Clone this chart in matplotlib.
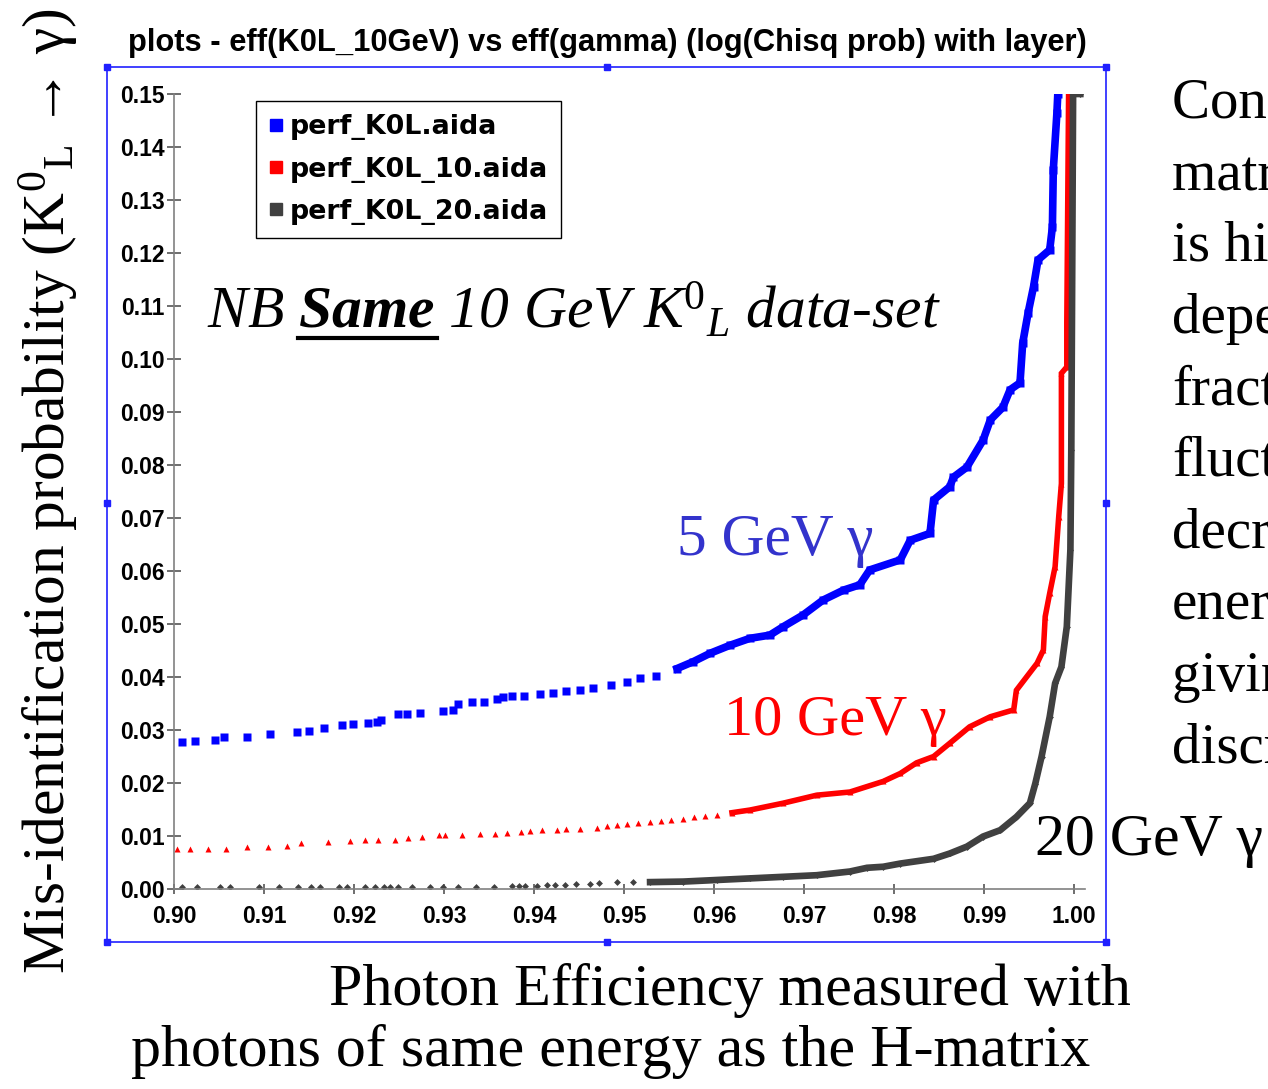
import numpy as np
import matplotlib
matplotlib.use('Agg')
import matplotlib.pyplot as plt
from matplotlib.lines import Line2D
from matplotlib.patches import Rectangle

plt.rcParams['mathtext.fontset'] = 'custom'
plt.rcParams['mathtext.rm'] = 'Liberation Serif'
plt.rcParams['mathtext.it'] = 'Liberation Serif:italic'
plt.rcParams['mathtext.bf'] = 'Liberation Serif:bold:italic'

# ---- data ----
blue_x = [0.9009, 0.9023, 0.9046, 0.9055, 0.9081, 0.9107, 0.9137, 0.9150, 0.9167, 0.9187,
          0.9199, 0.9216, 0.9225, 0.9230, 0.9249, 0.9259, 0.9273, 0.9299, 0.9310, 0.9315,
          0.9331, 0.9344, 0.9359, 0.9366, 0.9375, 0.9389, 0.9407, 0.9421, 0.9436, 0.9451,
          0.9466, 0.9486, 0.9503, 0.9518, 0.9536, 0.9559, 0.9577, 0.9596, 0.9618, 0.9640,
          0.9662, 0.9677, 0.9699, 0.9721, 0.9744, 0.9762, 0.9773, 0.9807, 0.9818, 0.9840,
          0.9844, 0.9862, 0.9866, 0.9881, 0.9899, 0.9907, 0.9921, 0.9929, 0.9940, 0.9943,
          0.9949, 0.9955, 0.9960, 0.9973, 0.9976, 0.9977, 0.9981, 0.9982]
blue_y = [0.0278, 0.0280, 0.0282, 0.0286, 0.0287, 0.0292, 0.0297, 0.0299, 0.0304, 0.0309,
          0.0311, 0.0313, 0.0315, 0.0319, 0.0331, 0.0331, 0.0332, 0.0335, 0.0338, 0.0350,
          0.0352, 0.0353, 0.0359, 0.0362, 0.0364, 0.0364, 0.0368, 0.0370, 0.0374, 0.0376,
          0.0379, 0.0385, 0.0391, 0.0398, 0.0401, 0.0416, 0.0429, 0.0445, 0.0460, 0.0473,
          0.0479, 0.0495, 0.0517, 0.0545, 0.0564, 0.0574, 0.0602, 0.0621, 0.0658, 0.0671,
          0.0734, 0.0759, 0.0777, 0.0796, 0.0847, 0.0885, 0.0909, 0.0942, 0.0955, 0.1030,
          0.1087, 0.1136, 0.1187, 0.1206, 0.1249, 0.1357, 0.1464, 0.1500]

red_x = [0.9003, 0.9018, 0.9038, 0.9058, 0.9081, 0.9104, 0.9126, 0.9141, 0.9171, 0.9196,
         0.9212, 0.9227, 0.9246, 0.9260, 0.9275, 0.9294, 0.9301, 0.9320, 0.9340, 0.9357,
         0.9370, 0.9386, 0.9396, 0.9409, 0.9425, 0.9436, 0.9451, 0.9470, 0.9481, 0.9492,
         0.9503, 0.9515, 0.9529, 0.9541, 0.9552, 0.9566, 0.9578, 0.9590, 0.9603, 0.9620,
         0.9640, 0.9677, 0.9714, 0.9751, 0.9788, 0.9807, 0.9825, 0.9844,
         0.9862, 0.9884, 0.9907, 0.9933, 0.9936, 0.9959, 0.9966, 0.9968, 0.9973, 0.9979,
         0.9983, 0.9986, 0.9986, 0.9992, 0.9992, 0.9994]
red_y = [0.0075, 0.0075, 0.0075, 0.0075, 0.0080, 0.0080, 0.0081, 0.0086, 0.0088, 0.0091,
         0.0092, 0.0092, 0.0093, 0.0096, 0.0099, 0.0101, 0.0101, 0.0101, 0.0104, 0.0104,
         0.0106, 0.0107, 0.0109, 0.0111, 0.0111, 0.0113, 0.0114, 0.0116, 0.0118, 0.0121,
         0.0122, 0.0124, 0.0127, 0.0128, 0.0130, 0.0133, 0.0135, 0.0137, 0.0140, 0.0144,
         0.0149, 0.0162, 0.0177, 0.0183, 0.0203, 0.0218, 0.0238, 0.0250,
         0.0275, 0.0306, 0.0325, 0.0338, 0.0375, 0.0426, 0.0451, 0.0514, 0.0558, 0.0608,
         0.0702, 0.0765, 0.0973, 0.0985, 0.1068, 0.1500]

gray_x = [0.9009, 0.9025, 0.9051, 0.9062, 0.9094, 0.9117, 0.9138, 0.9152, 0.9162, 0.9183,
          0.9192, 0.9212, 0.9223, 0.9233, 0.9240, 0.9249, 0.9264, 0.9284, 0.9299, 0.9316,
          0.9336, 0.9355, 0.9375, 0.9383, 0.9390, 0.9403, 0.9414, 0.9423, 0.9434, 0.9447,
          0.9462, 0.9472, 0.9492, 0.9510, 0.9529, 0.9566, 0.9603, 0.9640, 0.9677, 0.9714,
          0.9751, 0.9770, 0.9788, 0.9807, 0.9844, 0.9862, 0.9881, 0.9899, 0.9918, 0.9936,
          0.9951, 0.9957, 0.9964, 0.9973, 0.9979, 0.9986, 0.9992, 0.9996, 0.9997, 0.9999,
          1.0007]
gray_y = [0.0003, 0.0003, 0.0003, 0.0003, 0.0003, 0.0003, 0.0003, 0.0004, 0.0004, 0.0004,
          0.0004, 0.0004, 0.0004, 0.0004, 0.0004, 0.0004, 0.0004, 0.0004, 0.0003, 0.0004,
          0.0004, 0.0004, 0.0005, 0.0005, 0.0006, 0.0006, 0.0007, 0.0007, 0.0008, 0.0009,
          0.0010, 0.0011, 0.0013, 0.0013, 0.0013, 0.0014, 0.0017, 0.0020, 0.0023, 0.0026,
          0.0033, 0.0040, 0.0042, 0.0048, 0.0057, 0.0067, 0.0080, 0.0099, 0.0111, 0.0136,
          0.0162, 0.0199, 0.0250, 0.0325, 0.0388, 0.0419, 0.0495, 0.0640, 0.0828, 0.1500,
          0.1500]

labels = ['perf_K0L.aida', 'perf_K0L_10.aida', 'perf_K0L_20.aida']
colors = ['#0000ff', '#ff0000', '#404040']
xticks = [0.90, 0.91, 0.92, 0.93, 0.94, 0.95, 0.96, 0.97, 0.98, 0.99, 1.00]
yticks = [0.00, 0.01, 0.02, 0.03, 0.04, 0.05, 0.06, 0.07, 0.08, 0.09, 0.10,
          0.11, 0.12, 0.13, 0.14, 0.15]

side_lines = ['Constant H-', 'matrix cut', 'is highly', 'dependent on', 'fractional',
              'fluctuations', 'decreasing with', 'energy,', 'giving better',
              'discrimination']

W, H = 1268, 1089


def px(x, y):
    return x / W, 1 - y / H


fig = plt.figure(figsize=(W / 100, H / 100), dpi=100)
ax = fig.add_axes([174 / W, 1 - 889 / H, (1085 - 174) / W, (889 - 94) / H])

# sparse markers + dense (continuous looking) part drawn as thick line
series = [
    (blue_x, blue_y, 's', 6.0, 0.9559, 5.5),
    (red_x, red_y, '^', 4.0, 0.9620, 4.0),
    (gray_x, gray_y, 'D', 3.5, 0.9529, 4.8),
]
for (sx, sy, mk, ms, dense_from, lw), c in zip(series, colors):
    sx = np.array(sx)
    sy = np.array(sy)
    ax.plot(sx, sy, mk, color=c, ms=ms, mec='none', ls='none')
    k = sx >= dense_from
    ax.plot(sx[k], sy[k], '-', color=c, lw=lw, solid_joinstyle='miter')

ax.set_xlim(0.90, 0.90 + (1085 - 174) / 9000)
ax.set_ylim(0, 0.15)
ax.set_xticks(xticks)
ax.set_xticklabels(['%.2f' % v for v in xticks])
ax.set_yticks(yticks)
ax.set_yticklabels(['%.2f' % v for v in yticks])
for s in ['top', 'right']:
    ax.spines[s].set_visible(False)
for s in ['left', 'bottom']:
    ax.spines[s].set_color('#808080')
    ax.spines[s].set_linewidth(1.2)
ax.tick_params(axis='x', direction='inout', length=7.5, width=1.2, color='#555555', pad=8)
ax.tick_params(axis='y', direction='inout', length=9.5, width=1.2, color='#555555', pad=2)
for lab in ax.get_xticklabels() + ax.get_yticklabels():
    lab.set_fontfamily('Liberation Sans')
    lab.set_fontweight('bold')
    lab.set_fontsize(16.5)

handles = [Line2D([], [], marker='s', ls='none', color=c, ms=9) for c in colors]
leg = ax.legend(handles, labels, loc='upper left', bbox_to_anchor=px(256, 101),
                bbox_transform=fig.transFigure,
                prop={'family': 'DejaVu Sans', 'weight': 'bold', 'size': 19.4},
                frameon=True, fancybox=False, edgecolor='black', framealpha=1,
                borderaxespad=0, handlelength=0.45, handletextpad=0.3,
                labelspacing=0.6, borderpad=0.5)
leg.get_frame().set_linewidth(1.0)

# blue selection frame of the slide object
fig.add_artist(Rectangle(px(107, 942), 999 / W, 875 / H, transform=fig.transFigure,
                         fill=False, ec='#2020ff', lw=1.2))
hx = [107, 607, 1106, 107, 1106, 107, 607, 1106]
hy = [67, 67, 67, 503, 503, 942, 942, 942]
fig.add_artist(Line2D([x / W for x in hx], [1 - y / H for y in hy], marker='s', ls='none',
                      ms=4, color='#2020ff', transform=fig.transFigure))

texts = []


def put(x, y, s, width=None, height=None, **kw):
    t = fig.text(*px(x, y), s, **kw)
    texts.append((t, width, height))
    return t


put(607, 51, 'plots - eff(K0L_10GeV) vs eff(gamma) (log(Chisq prob) with layer)', width=961,
    ha='center', va='baseline', family='Liberation Sans', weight='bold', size=19)
put(207, 328, r'NB $\mathbf{Same}$ 10 GeV K$^{\mathit{0}}{}_{\mathit{L}}$ data-set', width=733,
    ha='left', va='baseline', family='Liberation Serif', style='italic', size=40)
fig.add_artist(Line2D([298 / W, 437 / W], [1 - 338 / H, 1 - 338 / H], lw=3, color='black',
                      transform=fig.transFigure))
put(677, 555, '5 GeV γ', width=196, ha='left', va='baseline', family='Liberation Serif',
    color='#3333cc', size=40)
put(724, 735, '10 GeV γ', width=222, ha='left', va='baseline', family='Liberation Serif',
    color='#ff0000', size=40)
put(1035, 855, '20 GeV γ', width=228, ha='left', va='baseline', family='Liberation Serif',
    color='black', size=40)
put(730, 1005, 'Photon Efficiency measured with', width=800, ha='center', va='baseline',
    family='Liberation Serif', size=40)
put(611, 1066, 'photons of same energy as the H-matrix', width=957, ha='center',
    va='baseline', family='Liberation Serif', size=40)
put(49, 491, r'Mis-identification probability (K$^{0}{}_{\mathrm{L}}$ → γ)', height=966,
    rotation=90, ha='center', va='center', family='Liberation Serif', size=40)
for i, s in enumerate(side_lines):
    fig.text(*px(1172, 118 + 71.6 * i), s, ha='left', va='baseline',
             family='Liberation Serif', size=41)

# scale fonts so the texts span the same pixel extent as in the slide
fig.canvas.draw()
r = fig.canvas.get_renderer()
for t, w, h in texts:
    bb = t.get_window_extent(r)
    if w:
        t.set_fontsize(t.get_fontsize() * w / bb.width)
    elif h:
        t.set_fontsize(t.get_fontsize() * h / bb.height)

fig.savefig('out.png', dpi=100)
